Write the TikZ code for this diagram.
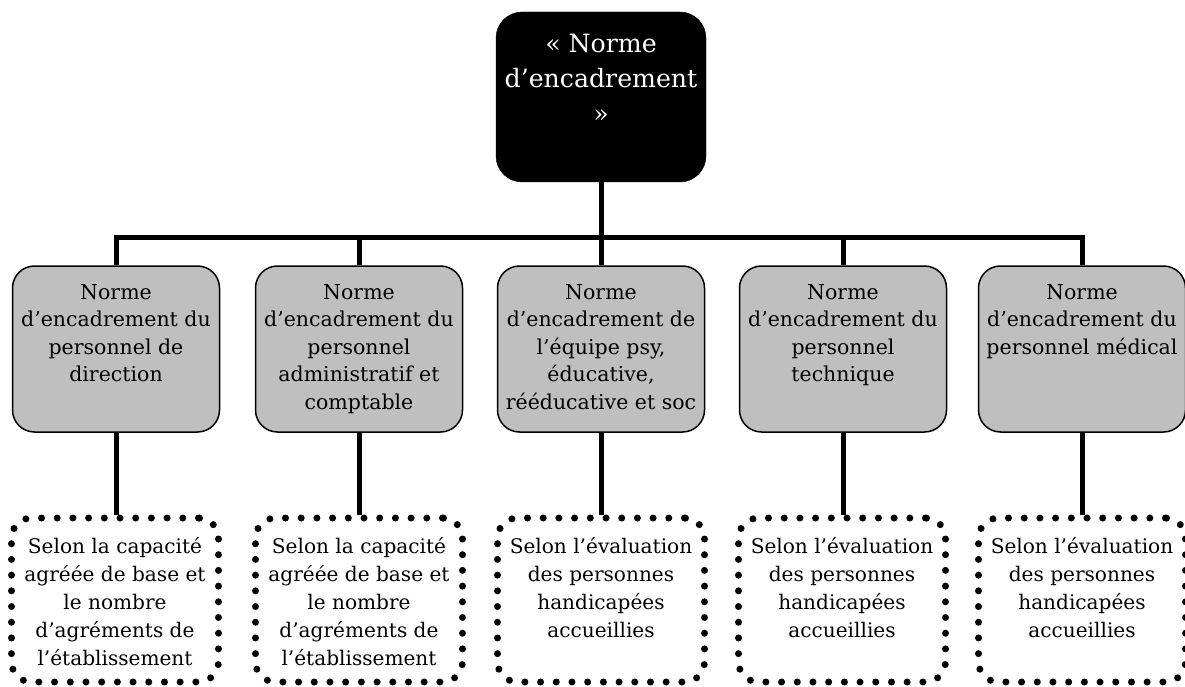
\documentclass[tikz,border=0pt]{standalone}
\usepackage{fontspec}
\setmainfont{DejaVu Serif}
\definecolor{boxgray}{RGB}{191,191,191}
\begin{document}
\begin{tikzpicture}[x=1pt,y=-1pt,
  topbox/.style={draw=black, fill=black, rounded corners=26pt, minimum width=210pt, minimum height=170pt, inner sep=0pt},
  graybox/.style={draw=black, line width=1.5pt, fill=boxgray, rounded corners=22pt, minimum width=207pt, minimum height=166pt, inner sep=0pt},
  dotbox/.style={draw=black, line width=7pt, dash pattern=on 0pt off 15.7pt, line cap=round, rounded corners=20pt, minimum width=207pt, minimum height=164pt, inner sep=0pt},
  conn/.style={line width=5pt, line cap=butt},
  toptext/.style={anchor=north, inner sep=0pt, align=center, text=white, font=\fontsize{25.2}{35}\selectfont},
  graytext/.style={anchor=north, inner sep=0pt, align=center, font=\fontsize{20.5}{27.5}\selectfont},
  dottext/.style={anchor=north, inner sep=0pt, align=center, font=\fontsize{20.1}{28}\selectfont}
]
\useasboundingbox (0,0) rectangle (1185,687);

% top box
\node[topbox] (top) at (601,97) {};
\node[toptext] (toptx) at (601,30) {\rule{0pt}{22pt}« Norme\\d’encadrement\\»};

% hub
\coordinate (hub) at (601,237);

% gray boxes
\node[graybox] (g1) at (116,349) {};
\node[graybox] (g2) at (359,349) {};
\node[graybox] (g3) at (601,349) {};
\node[graybox] (g4) at (843,349) {};
\node[graybox] (g5) at (1082,349) {};

\node[graytext] (g1t) at (116,282) {\rule{0pt}{17pt}Norme\\d’encadrement du\\personnel de\\direction};
\node[graytext] (g2t) at (359,282) {\rule{0pt}{17pt}Norme\\d’encadrement du\\personnel\\administratif et\\comptable};
\node[graytext] (g3t) at (601,282) {\rule{0pt}{17pt}Norme\\d’encadrement de\\l’équipe psy,\\éducative,\\rééducative et soc};
\node[graytext] (g4t) at (843,282) {\rule{0pt}{17pt}Norme\\d’encadrement du\\personnel\\technique};
\node[graytext] (g5t) at (1082,282) {\rule{0pt}{17pt}Norme\\d’encadrement du\\personnel médical};

% dotted boxes
\node[dotbox] (d1) at (115,600) {};
\node[dotbox] (d2) at (359,600) {};
\node[dotbox] (d3) at (601,600) {};
\node[dotbox] (d4) at (842,600) {};
\node[dotbox] (d5) at (1082,600) {};

\node[dottext] (d1t) at (115,536) {\rule{0pt}{17pt}Selon la capacité\\agréée de base et\\le nombre\\d’agréments de\\l’établissement};
\node[dottext] (d2t) at (359,536) {\rule{0pt}{17pt}Selon la capacité\\agréée de base et\\le nombre\\d’agréments de\\l’établissement};
\node[dottext] (d3t) at (601,536) {\rule{0pt}{17pt}Selon l’évaluation\\des personnes\\handicapées\\accueillies};
\node[dottext] (d4t) at (842,536) {\rule{0pt}{17pt}Selon l’évaluation\\des personnes\\handicapées\\accueillies};
\node[dottext] (d5t) at (1082,536) {\rule{0pt}{17pt}Selon l’évaluation\\des personnes\\handicapées\\accueillies};

% connectors
\draw[conn] (top.south) -- (hub);
\foreach \g in {g1,g2,g3,g4,g5}{
  \draw[conn] (hub) -| (\g.north);
}
\foreach \i in {1,...,5}{
  \draw[conn] (g\i.south) -- (g\i.south |- d\i.north);
}
\end{tikzpicture}
\end{document}
